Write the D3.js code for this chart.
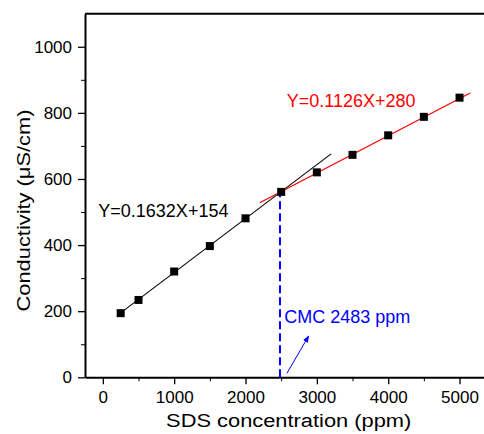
<!DOCTYPE html>
<html>
<head>
<meta charset="utf-8">
<script src="https://cdn.jsdelivr.net/npm/d3@7"></script>
<style>
  body { margin: 0; background: #fff; }
  svg { display: block; font-family: "Liberation Sans", Arial, sans-serif; }
  .axis path, .axis line { stroke: #000; }
  .axis text { fill: #000; font-size: 17px; font-family: "Liberation Sans", Arial, sans-serif; }
</style>
</head>
<body>
<svg id="chart"></svg>
<script>
// measured points
var concentration = [250, 500, 1000, 1500, 2000, 2500, 3000, 3500, 4000, 4500, 5000];
var conductivity  = [194, 234, 320, 397, 481, 561, 620, 673, 732, 788, 846];

// linear fits (end points)
var lowFit  = [[250, 195], [3200, 676]];
var highFit = [[2200, 528], [5150, 860]];

var cmcValue = 2483;
var cmcTop = 559;
var arrowPts = [[2580, 12], [2885, 125]];

var xTicks = [0, 1000, 2000, 3000, 4000, 5000];
var xMinor = [500, 1500, 2500, 3500, 4500];
var yTicks = [0, 200, 400, 600, 800, 1000];
var yMinor = [100, 300, 500, 700, 900];

var width = 484, height = 434;

var svg = d3.select("#chart")
    .attr("width", width)
    .attr("height", height);

var x = d3.scaleLinear().domain([-250, 5500]).range([85, 495.2]);
var y = d3.scaleLinear().domain([0, 1100]).range([377.3, 13.7]);

// axes
svg.append("g")
    .attr("class", "axis")
    .attr("transform", "translate(0," + y(0) + ")")
    .call(d3.axisBottom(x).tickValues(xMinor).tickSize(4).tickSizeOuter(0).tickFormat(""))
    .call(function(g) { g.select(".domain").remove(); });

svg.append("g")
    .attr("class", "axis")
    .attr("transform", "translate(" + x(-250) + ",0)")
    .call(d3.axisLeft(y).tickValues(yMinor).tickSize(4).tickSizeOuter(0).tickFormat(""))
    .call(function(g) { g.select(".domain").remove(); });

svg.append("g")
    .attr("class", "axis")
    .attr("transform", "translate(0," + y(0) + ")")
    .call(d3.axisBottom(x).tickValues(xTicks).tickSize(7).tickPadding(6.5).tickSizeOuter(0).tickFormat(d3.format("d")))
    .call(function(g) {
        g.select(".domain").attr("stroke-width", 2);
        g.selectAll(".tick line").attr("stroke-width", 1.3);
    });

svg.append("g")
    .attr("class", "axis")
    .attr("transform", "translate(" + x(-250) + ",0)")
    .call(d3.axisLeft(y).tickValues(yTicks).tickSize(7).tickPadding(6).tickSizeOuter(0).tickFormat(d3.format("d")))
    .call(function(g) {
        g.select(".domain").attr("stroke-width", 2);
        g.selectAll(".tick line").attr("stroke-width", 1.3);
    });

// top frame line
svg.append("line")
    .attr("x1", x(-250)).attr("x2", x(5500))
    .attr("y1", y(1100)).attr("y2", y(1100))
    .attr("stroke", "#000").attr("stroke-width", 2);

var line = d3.line()
    .x(function(d) { return x(d[0]); })
    .y(function(d) { return y(d[1]); });

svg.append("path")
    .datum(lowFit)
    .attr("d", line)
    .attr("fill", "none")
    .attr("stroke", "#000")
    .attr("stroke-width", 1.1);

svg.append("path")
    .datum(highFit)
    .attr("d", line)
    .attr("fill", "none")
    .attr("stroke", "#ff0000")
    .attr("stroke-width", 1.3);

// CMC dashed line
svg.append("line")
    .attr("x1", x(cmcValue)).attr("x2", x(cmcValue))
    .attr("y1", y(0)).attr("y2", y(cmcTop))
    .attr("stroke", "#0000ff")
    .attr("stroke-width", 2)
    .attr("stroke-dasharray", "8,4");

// markers
var pts = concentration.map(function(c, i) { return [c, conductivity[i]]; });
svg.selectAll(".pt")
    .data(pts)
    .enter().append("rect")
    .attr("class", "pt")
    .attr("x", function(d) { return x(d[0]) - 4; })
    .attr("y", function(d) { return y(d[1]) - 4; })
    .attr("width", 8)
    .attr("height", 8)
    .attr("fill", "#000");

// arrow
svg.append("defs").append("marker")
    .attr("id", "arrow")
    .attr("viewBox", "0 0 10 10")
    .attr("refX", 9).attr("refY", 5)
    .attr("markerWidth", 7).attr("markerHeight", 7)
    .attr("markerUnits", "userSpaceOnUse")
    .attr("orient", "auto")
    .append("path")
    .attr("d", "M0,1 L10,5 L0,9 Z")
    .attr("fill", "#0000ff");

svg.append("path")
    .datum(arrowPts)
    .attr("d", line)
    .attr("stroke", "#0000ff")
    .attr("stroke-width", 1)
    .attr("fill", "none")
    .attr("marker-end", "url(#arrow)");

// annotations
svg.append("text")
    .attr("x", 98.3).attr("y", 216.7)
    .attr("font-size", 18)
    .attr("fill", "#000")
    .text("Y=0.1632X+154");

svg.append("text")
    .attr("x", 286.7).attr("y", 106.7)
    .attr("font-size", 18)
    .attr("fill", "#ff0000")
    .text("Y=0.1126X+280");

svg.append("text")
    .attr("x", 284.3).attr("y", 323)
    .attr("font-size", 18)
    .attr("fill", "#0000ff")
    .text("CMC 2483 ppm");

// axis titles
svg.append("text")
    .attr("transform", "translate(288.7,426.7) scale(1.15,1)")
    .attr("text-anchor", "middle")
    .attr("font-size", 19)
    .attr("fill", "#000")
    .text("SDS concentration (ppm)");

svg.append("text")
    .attr("transform", "translate(29.5,210.5) rotate(-90) scale(1.15,1)")
    .attr("text-anchor", "middle")
    .attr("font-size", 19)
    .attr("fill", "#000")
    .text("Conductivity (μS/cm)");
</script>
</body>
</html>
